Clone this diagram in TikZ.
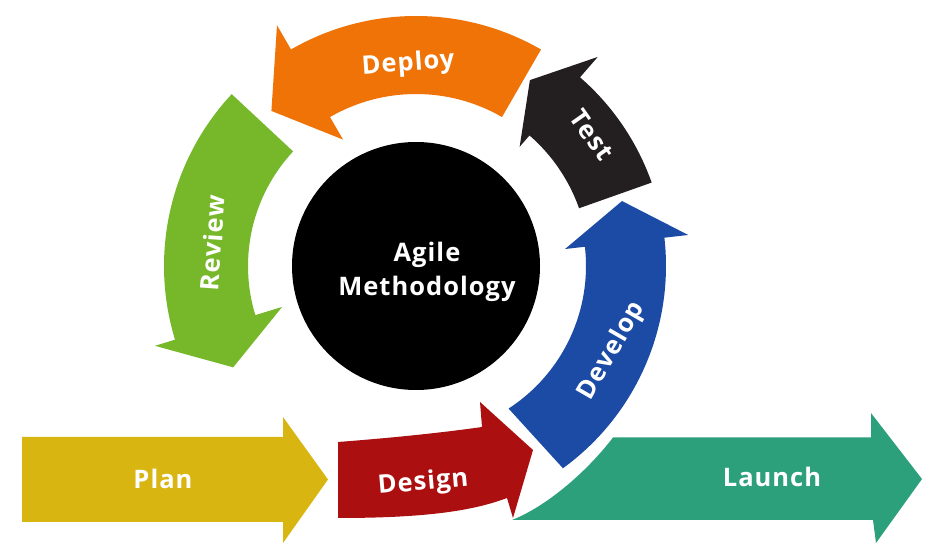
\documentclass[tikz,border=0pt]{standalone}
\usepackage{fontspec}
\newfontfamily\lblfont[LetterSpace=4]{Open Sans}
\definecolor{deployc}{RGB}{239,115,6}
\definecolor{testc}{RGB}{35,31,32}
\definecolor{reviewc}{RGB}{118,184,42}
\definecolor{developc}{RGB}{28,75,166}
\definecolor{designc}{RGB}{171,15,15}
\definecolor{planc}{RGB}{217,181,17}
\definecolor{launchc}{RGB}{44,160,123}
\begin{document}
\begin{tikzpicture}[x=1pt,y=1pt,
  lbl/.style={text=white, font=\lblfont\bfseries\fontsize{25.5}{30}\selectfont,
              inner sep=0pt, text height=18pt, text depth=0pt}]
\useasboundingbox (0,0) rectangle (940,549);

% central hub
\node[circle, fill=black, minimum size=248pt, inner sep=0pt] (hub) at (416,283) {};
\node[text=white, align=center, inner sep=0pt,
      font=\lblfont\bfseries\fontsize{25.5}{34}\selectfont] (agile) at (427,277) {Agile\\Methodology};

% ring arrows
\begin{scope}[shift={(416,283)}]
  % Deploy
  \fill[deployc] (60:250) arc[start angle=60,end angle=120,radius=250]
     -- (120:278) -- (133:212) -- (120:146) -- (120:172)
     arc[start angle=120,end angle=60,radius=172] -- cycle;
  % Review
  \fill[reviewc] (137:252) arc[start angle=137,end angle=197,radius=252]
     -- (197:273) -- (209:209) -- (197:140) -- (197:168)
     arc[start angle=197,end angle=137,radius=168] -- cycle;
  % Test
  \fill[testc] (19.5:250) arc[start angle=19.5,end angle=49,radius=250]
     -- (49:277) -- (58.5:218) -- (49:158) -- (49:173)
     arc[start angle=49,end angle=19.5,radius=173] -- cycle;
  % Develop
  \fill[developc] (-54:250) arc[start angle=-54,end angle=6.5,radius=250]
     -- (6.5:274) -- (17.5:216) -- (6.5:150) -- (6.5:170)
     arc[start angle=6.5,end angle=-57,radius=170] -- cycle;
\end{scope}

% Design
\fill[designc] (338,107) .. controls (390,111) and (440,116) .. (482,122)
   -- (480,147) -- (533,99) -- (513,31) -- (507,51)
   .. controls (475,39) and (430,31) .. (338,31) -- cycle;

% Plan
\fill[planc] (22,112) -- (283,112) -- (283,132) -- (328,69.5) -- (283,6)
   -- (283,27) -- (22,27) -- cycle;

% Launch
\fill[launchc] (512,29) .. controls (545,42) and (585,75) .. (613,111.5)
   -- (871,111.5) -- (871,136) -- (922,70) -- (876,6) -- (873,29) -- cycle;

% labels
\node[lbl, rotate=4] (deploy) at (408,487) {Deploy};
\node[lbl, rotate=-55] (test) at (592,414) {Test};
\node[lbl, rotate=86] (review) at (213,306) {Review};
\node[lbl, rotate=60] (develop) at (610,199) {Develop};
\node[lbl, rotate=5] (design) at (423,68) {Design};
\node[lbl] (plan) at (163,69) {Plan};
\node[lbl] (launch) at (772,71) {Launch};
\end{tikzpicture}
\end{document}
